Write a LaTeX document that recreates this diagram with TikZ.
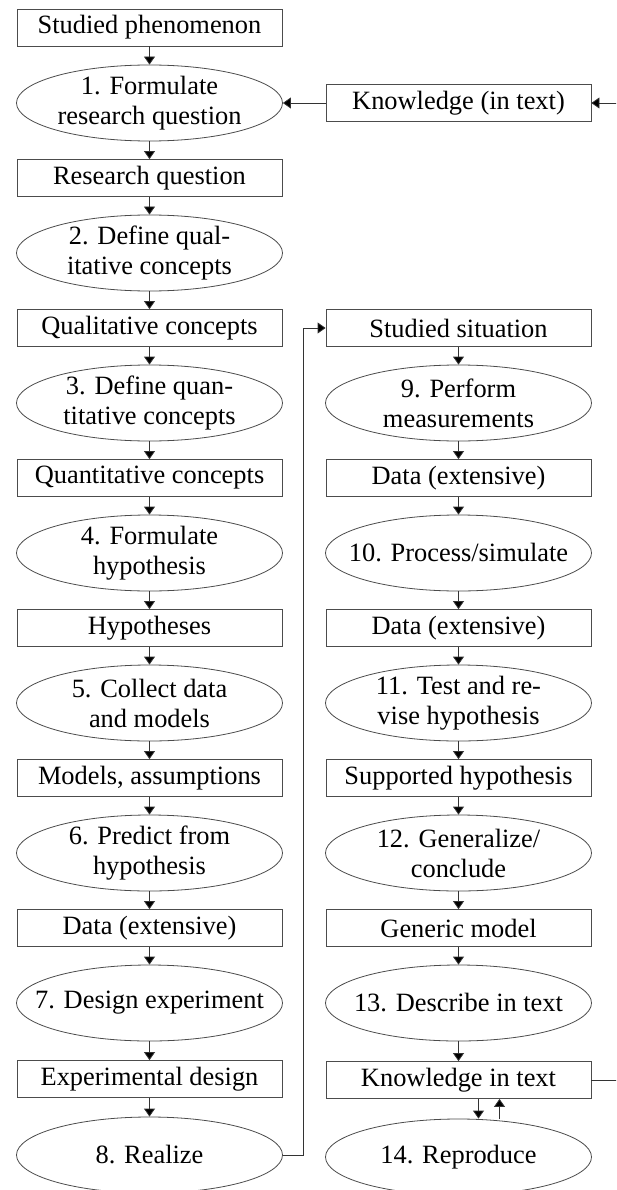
\documentclass[tikz,border=0pt]{standalone}
\usepackage{fontspec}
\setmainfont{Liberation Serif}
\usetikzlibrary{shapes.geometric,arrows.meta}
\begin{document}
\begin{tikzpicture}[x=1pt,y=-1pt,
  every node/.style={font=\fontsize{26.4}{30}\selectfont, inner sep=0pt},
  stepbox/.style={draw=black!70, line width=0.8pt, rectangle, minimum width=265pt, minimum height=37pt},
  stepell/.style={draw=black!70, line width=0.8pt, ellipse, inner xsep=-70pt, inner ysep=-20pt, minimum width=266pt, minimum height=76pt, align=center},
  conn/.style={draw=black!80, line width=0.8pt, -{Triangle[length=8pt,width=11pt,fill=black]}},
  plain/.style={draw=black!80, line width=0.8pt}]
\clip (0,0) rectangle (616,1190);
\fill[white] (0,0) rectangle (616,1190);
% left column
\node[stepbox] (b0) at (149.5,27.5) {Studied phenomenon};
\node[stepell] (e1) at (149.5,103) {1. Formulate\\research question};
\node[stepbox] (b1) at (149.5,178) {Research question};
\node[stepell] (e2) at (149.5,253) {2. Define qual-\\itative concepts};
\node[stepbox] (b2) at (149.5,328) {Qualitative concepts};
\node[stepell] (e3) at (149.5,403) {3. Define quan-\\titative concepts};
\node[stepbox] (b3) at (149.5,478) {Quantitative concepts};
\node[stepell] (e4) at (149.5,553) {4. Formulate\\hypothesis};
\node[stepbox] (b4) at (149.5,628) {Hypotheses};
\node[stepell] (e5) at (149.5,703) {5. Collect data\\and models};
\node[stepbox] (b5) at (149.5,778) {Models, assumptions};
\node[stepell] (e6) at (149.5,853) {6. Predict from\\hypothesis};
\node[stepbox] (b6) at (149.5,928) {Data (extensive)};
\node[stepell] (e7) at (149.5,1003) {7. Design experiment};
\node[stepbox] (b7) at (149.5,1079) {Experimental design};
\node[stepell] (e8) at (149.5,1155) {8. Realize};
% right column
\node[stepbox] (k0) at (458.5,103) {Knowledge (in text)};
\node[stepbox] (r0) at (458.5,328) {Studied situation};
\node[stepell] (e9) at (458.5,403) {9. Perform\\measurements};
\node[stepbox] (r1) at (458.5,478) {Data (extensive)};
\node[stepell] (e10) at (458.5,553) {10. Process/simulate};
\node[stepbox] (r2) at (458.5,628) {Data (extensive)};
\node[stepell] (e11) at (458.5,703) {11. Test and re-\\vise hypothesis};
\node[stepbox] (r3) at (458.5,778) {Supported hypothesis};
\node[stepell] (e12) at (458.5,853) {12. Generalize/\\conclude};
\node[stepbox] (r4) at (458.5,928) {Generic model};
\node[stepell] (e13) at (458.5,1003) {13. Describe in text};
\node[stepbox] (r5) at (458.5,1080) {Knowledge in text};
\node[stepell] (e14) at (458.5,1157) {14. Reproduce};
% left arrows
\foreach \a/\b in {b0/e1,e1/b1,b1/e2,e2/b2,b2/e3,e3/b3,b3/e4,e4/b4,b4/e5,e5/b5,b5/e6,e6/b6,b6/e7,e7/b7,b7/e8}
  \draw[conn] (\a.south) -- (\b.north);
% right arrows
\foreach \a/\b in {r0/e9,e9/r1,r1/e10,e10/r2,r2/e11,e11/r3,r3/e12,e12/r4,r4/e13,e13/r5}
  \draw[conn] (\a.south) -- (\b.north);
% knowledge to formulate
\draw[conn] (k0.west) -- (e1.east);
% realize to studied situation
\coordinate (rv) at (303,1155);
\draw[conn] (e8.east) -- (rv) |- (r0.west);
% knowledge in text loop
\coordinate (lp) at (640,1080);
\coordinate (lq) at (640,103);
\draw[conn] (r5.east) -- (lp) -- (lq) -- (k0.east);
% reproduce arrows
\draw[conn] ([xshift=20pt]r5.south) -- ([xshift=20pt]r5.south |- e14.north);
\draw[conn] ([xshift=41pt]r5.south |- 0,1119) -- ([xshift=41pt]r5.south);
\end{tikzpicture}
\end{document}
